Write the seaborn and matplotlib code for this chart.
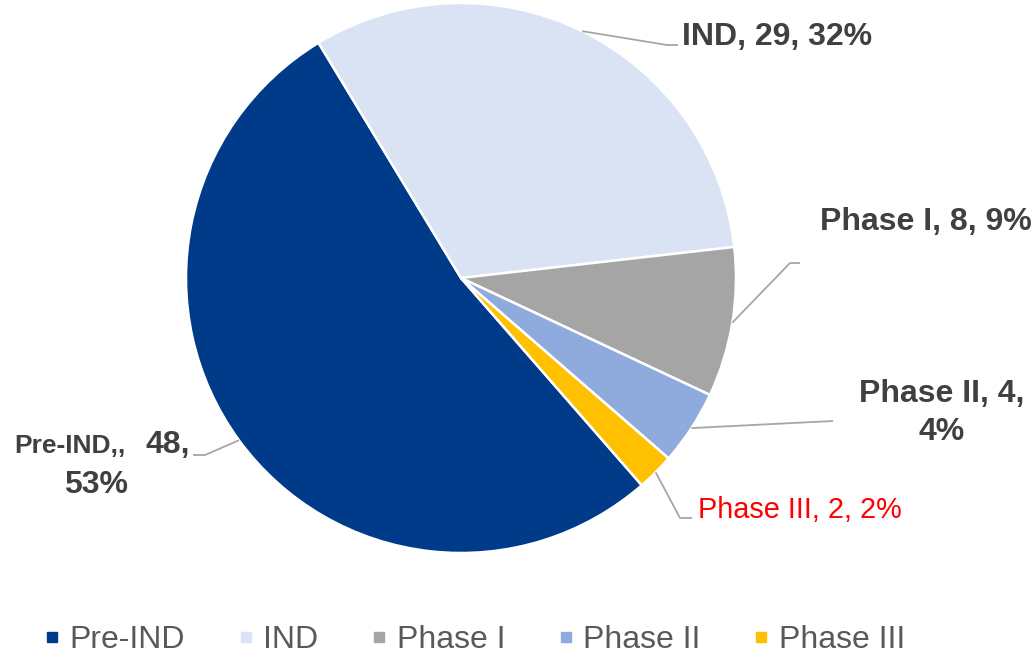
import matplotlib
matplotlib.use("Agg")
import matplotlib.pyplot as plt
from matplotlib.lines import Line2D
import numpy as np
import seaborn as sns

# ---- data ----
categories = ["Pre-IND", "IND", "Phase I", "Phase II", "Phase III"]
counts = [48, 29, 8, 4, 2]
colors = ["#003B8A", "#DAE3F3", "#A5A5A5", "#8FAADC", "#FFC000"]

sns.set_theme(style="white")
plt.rcParams['font.family'] = ['Liberation Sans', 'DejaVu Sans']

W, H = 1036, 655
fig = plt.figure(figsize=(W / 100, H / 100), dpi=100)
ax = fig.add_axes([0, 0, 1, 1])
cx, cy, R = 461, 278, 275


def px(x, y):
    return ((x - cx) / R, (cy - y) / R)


wedges, _ = ax.pie(counts, colors=colors, startangle=90 - 138.9, counterclock=False,
                   radius=1, center=(0, 0),
                   wedgeprops=dict(edgecolor='white', linewidth=1.8))
ax.set_xlim(-cx / R, (W - cx) / R)
ax.set_ylim(-(H - cy) / R, cy / R)
ax.set_aspect('auto')
ax.axis('off')

total = sum(counts)
pcts = [f"{round(100 * c / total)}%" for c in counts]

label_col = "#404040"
line_col = "#A6A6A6"
FS = 23

# leader lines: start at wedge mid-angle edge, then elbow points (pixel layout)
elbows = {
    "Pre-IND": [(205, 455), (193, 455)],
    "IND": [(667, 45), (678, 45)],
    "Phase I": [(790, 263), (800, 263)],
    "Phase II": [(833, 421)],
    "Phase III": [(680, 518), (692, 518)],
}
for w, cat in zip(wedges, categories):
    mid = np.deg2rad((w.theta1 + w.theta2) / 2)
    xs = [np.cos(mid)] + [px(*p)[0] for p in elbows[cat]]
    ys = [np.sin(mid)] + [px(*p)[1] for p in elbows[cat]]
    ax.plot(xs, ys, color=line_col, lw=1.3, solid_capstyle='butt', zorder=3)

# labels
ax.text(*px(682, 45), f"{categories[1]}, {counts[1]}, {pcts[1]}", fontsize=FS,
        fontweight='bold', color=label_col, ha='left', va='baseline')
ax.text(*px(820, 230), f"{categories[2]}, {counts[2]}, {pcts[2]}", fontsize=FS,
        fontweight='bold', color=label_col, ha='left', va='baseline')
ax.text(*px(942, 402), f"{categories[3]}, {counts[3]},", fontsize=FS,
        fontweight='bold', color=label_col, ha='center', va='baseline')
ax.text(*px(942, 440), f"{pcts[3]}", fontsize=FS,
        fontweight='bold', color=label_col, ha='center', va='baseline')
ax.text(*px(698, 518), f"{categories[4]}, {counts[4]}, {pcts[4]}", fontsize=20.8,
        color='#FF0000', ha='left', va='baseline')
ax.text(*px(125, 453), f"{categories[0]},,", fontsize=19,
        fontweight='bold', color=label_col, ha='right', va='baseline')
ax.text(*px(145, 453), f"{counts[0]},", fontsize=FS,
        fontweight='bold', color=label_col, ha='left', va='baseline')
ax.text(*px(96, 493), f"{pcts[0]}", fontsize=FS,
        fontweight='bold', color=label_col, ha='center', va='baseline')

# legend
handles = [Line2D([], [], marker='s', linestyle='none', markersize=7.5,
                  markerfacecolor=c, markeredgecolor=c) for c in colors]
leg = fig.legend(handles, categories, loc='center', ncol=5,
                 bbox_to_anchor=(474.5 / W, 1 - 640 / H), frameon=False,
                 fontsize=23, handlelength=0.5, handletextpad=0.3,
                 columnspacing=1.65, borderaxespad=0, borderpad=0)
for t in leg.get_texts():
    t.set_color('#595959')

fig.savefig("out.png", dpi=100)
